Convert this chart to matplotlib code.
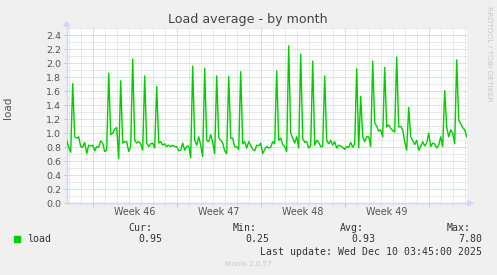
import numpy as np
import pandas as pd
import matplotlib
matplotlib.use("Agg")
import matplotlib.pyplot as plt
import matplotlib.dates as mdates
from matplotlib.ticker import MultipleLocator, FixedLocator, NullFormatter
from matplotlib.patches import Rectangle, Polygon

W, H = 497, 275

# load average, one sample every 4 hours (Nov 6 20:00 -> Dec 10 04:00)
load = [
    0.90,
    0.80, 0.73, 1.71, 0.95, 0.93, 0.95,   # Nov 7
    0.81, 0.80, 0.87, 0.71, 0.83, 0.82,   # Nov 8
    0.83, 0.75, 0.81, 0.80, 0.89, 0.86,   # Nov 9
    0.74, 0.76, 1.86, 0.98, 1.00, 1.06,   # Nov 10
    1.08, 0.64, 1.75, 0.86, 0.88, 0.88,   # Nov 11
    0.74, 0.81, 2.06, 0.90, 0.86, 0.88,   # Nov 12
    0.85, 0.76, 1.82, 0.86, 0.81, 0.85,   # Nov 13
    0.86, 0.79, 1.67, 0.86, 0.88, 0.83,   # Nov 14
    0.85, 0.81, 0.83, 0.81, 0.83, 0.81,   # Nov 15
    0.81, 0.75, 0.76, 0.86, 0.76, 0.81,   # Nov 16
    0.82, 0.65, 1.96, 0.90, 0.83, 0.95,   # Nov 17
    0.83, 0.67, 1.93, 0.90, 0.88, 0.98,   # Nov 18
    0.87, 0.71, 1.82, 0.94, 0.90, 0.86,   # Nov 19
    0.75, 0.71, 1.81, 0.93, 0.93, 0.81,   # Nov 20
    0.81, 0.77, 1.88, 0.85, 0.88, 0.79,   # Nov 21
    0.88, 0.83, 0.77, 0.75, 0.83, 0.82,   # Nov 22
    0.86, 0.71, 0.77, 0.81, 0.79, 0.80,   # Nov 23
    0.88, 0.85, 1.89, 0.90, 0.93, 0.84,   # Nov 24
    0.81, 0.74, 2.25, 1.00, 0.93, 0.86,   # Nov 25
    0.95, 0.79, 2.13, 0.93, 0.87, 0.88,   # Nov 26
    0.79, 0.82, 2.03, 0.83, 0.90, 0.87,   # Nov 27
    0.81, 0.81, 1.82, 0.90, 0.85, 0.90,   # Nov 28
    0.83, 0.88, 0.79, 0.83, 0.82, 0.80,   # Nov 29
    0.77, 0.81, 0.80, 0.87, 0.80, 0.85,   # Nov 30
    1.92, 0.79, 1.53, 0.95, 0.88, 0.95,   # Dec 1
    0.95, 0.81, 2.03, 1.15, 1.10, 1.03,   # Dec 2
    1.05, 0.95, 1.94, 1.09, 1.12, 1.07,   # Dec 3
    1.04, 1.02, 2.09, 1.09, 1.10, 1.05,   # Dec 4
    0.88, 0.76, 1.37, 0.95, 0.90, 0.84,   # Dec 5
    0.90, 0.76, 0.81, 0.88, 0.82, 0.86,   # Dec 6
    1.00, 0.81, 0.86, 0.85, 0.79, 0.83,   # Dec 7
    0.95, 0.81, 1.61, 1.09, 0.95, 1.05,   # Dec 8
    1.00, 0.85, 2.05, 1.19, 1.14, 1.08,   # Dec 9
    1.05, 0.95,                           # Dec 10
]
start = "2025-11-06 20:00"

week_starts = ["2025-11-09", "2025-11-16", "2025-11-23", "2025-11-30"]
week_labels = ["Week 46", "Week 47", "Week 48", "Week 49"]

legend_heads = ["Cur:", "Min:", "Avg:", "Max:"]
legend_vals = ["0.95", "0.25", "0.93", "7.80"]

times = pd.date_range(start, periods=len(load), freq="4h")

axis_c = "#cfd6f8"
grid_minor = "#d6d6d6"
grid_major = "#ecb4b4"
txt = "#555555"


def fx(x):
    return x / W


def fy(y):
    return 1 - y / H


fig = plt.figure(figsize=(W / 100, H / 100), dpi=100, facecolor="#f0f0f0")
ax = fig.add_axes([fx(66.7), fy(203.3), 400 / W, 175 / H])
ax.set_facecolor("white")

ax.plot(times, load, color="#00cc00", lw=1.0, zorder=3)
ax.set_xlim(times[0], times[-1])
ax.set_ylim(0, 2.5)

# grid: days / weeks, 0.1 / 0.2
ax.xaxis.set_major_locator(mdates.WeekdayLocator(byweekday=mdates.SU))
ax.xaxis.set_minor_locator(mdates.WeekdayLocator(
    byweekday=(mdates.MO, mdates.TU, mdates.WE, mdates.TH, mdates.FR, mdates.SA)))
ax.xaxis.set_major_formatter(NullFormatter())
ax.yaxis.set_major_locator(MultipleLocator(0.2))
ax.yaxis.set_minor_locator(FixedLocator(np.arange(0.1, 2.55, 0.2)))
ax.yaxis.set_major_formatter(matplotlib.ticker.FormatStrFormatter("%.1f"))

ax.grid(which="minor", color=grid_minor, ls=(0, (1, 1)), lw=0.72, zorder=1)
ax.grid(which="major", color=grid_major, ls=(0, (1, 1)), lw=0.72, zorder=1)
ax.set_axisbelow(True)

ax.tick_params(axis="x", which="major", length=3, color=grid_major, width=0.72)
ax.tick_params(axis="x", which="minor", length=1.5, color=grid_minor, width=0.72)
ax.tick_params(axis="y", which="major", length=2, color=grid_major, width=0.72,
               labelsize=6.8, labelcolor=txt, pad=2)
ax.tick_params(axis="y", which="minor", length=0)

for s in ["top", "right"]:
    ax.spines[s].set_visible(False)
for s in ["left", "bottom"]:
    ax.spines[s].set_color(axis_c)
    ax.spines[s].set_linewidth(1.0)

# axis arrows
ax.plot([0, 0], [1, 1.014], transform=ax.transAxes, color=axis_c, lw=1, clip_on=False)
ax.add_patch(Polygon([(-0.0075, 1.013), (0.0075, 1.013), (0, 1.038)],
                     closed=True, transform=ax.transAxes, color=axis_c, clip_on=False))
ax.plot([1, 1.004], [0, 0], transform=ax.transAxes, color=axis_c, lw=1, clip_on=False)
ax.add_patch(Polygon([(1.003, -0.015), (1.003, 0.015), (1.016, 0)],
                     closed=True, transform=ax.transAxes, color=axis_c, clip_on=False))

# week labels in the middle of each week
for ws, lab in zip(week_starts, week_labels):
    c = mdates.date2num(pd.Timestamp(ws) + pd.Timedelta(days=3.5))
    ax.text(c, -0.05, lab, transform=ax.get_xaxis_transform(), ha="center",
            va="center", fontsize=6.9, color=txt)

fig.text(fx(248), fy(19), "Load average - by month", ha="center", va="center",
         fontsize=9.1, color="#444444")
fig.text(fx(8), fy(108), "load", rotation=90, ha="center", va="center",
         fontsize=7.5, color=txt)
fig.text(fx(488.5), fy(53.5), "RRDTOOL / TOBI OETIKER", rotation=270, ha="center",
         va="center", fontsize=5.4, color="#c8c8c8")

# legend
mono = dict(family="DejaVu Sans Mono", fontsize=7.1, color="#333333", va="center")
fig.add_artist(Rectangle((fx(14), fy(242)), 6 / W, 6 / H, transform=fig.transFigure,
                         color="#00cc00"))
fig.text(fx(27), fy(239.5), "load", ha="left", **mono)
for head, hx in zip(legend_heads, [128, 233, 340, 447]):
    fig.text(fx(hx), fy(227.7), head, ha="left", **mono)
for val, vx in zip(legend_vals, [162, 269, 375, 482]):
    fig.text(fx(vx), fy(239.5), val, ha="right", **mono)
fig.text(fx(482), fy(251.7), "Last update: Wed Dec 10 03:45:00 2025", ha="right", **mono)
fig.text(fx(248), fy(264), "Munin 2.0.57", ha="center", va="center",
         fontsize=5.1, color="#c8c8c8")

fig.savefig("out.png", dpi=100, facecolor=fig.get_facecolor())
